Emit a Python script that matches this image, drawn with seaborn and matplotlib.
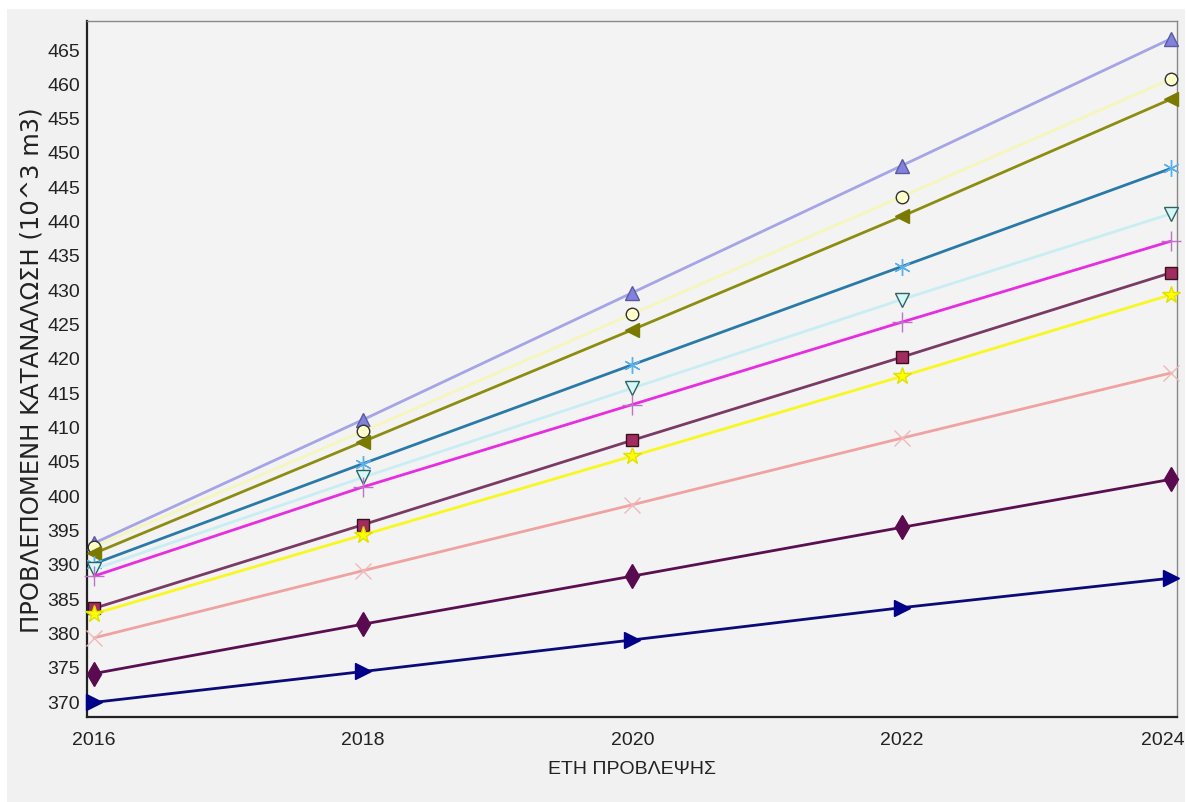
import matplotlib
matplotlib.use("Agg")
import matplotlib.pyplot as plt
import matplotlib.transforms as mtransforms
from matplotlib.patches import Rectangle
import seaborn as sns
import pandas as pd

# Forecast years and projected consumption per scenario (10^3 m3)
years = [2016, 2018, 2020, 2022, 2024]

s_triangle = [393.0, 411.0, 429.5, 448.0, 466.5]
s_circle = [392.5, 409.3, 426.4, 443.5, 460.6]
s_left = [391.5, 407.8, 424.1, 440.6, 457.7]
s_asterisk = [390.0, 404.6, 419.0, 433.3, 447.6]
s_down = [389.2, 402.6, 415.6, 428.5, 441.0]
s_plus = [388.2, 401.2, 413.2, 425.2, 437.0]
s_square = [383.5, 395.7, 408.0, 420.1, 432.4]
s_star = [382.7, 394.2, 405.7, 417.3, 429.2]
s_x = [379.2, 389.0, 398.6, 408.3, 417.8]
s_diamond = [374.0, 381.2, 388.2, 395.3, 402.3]
s_right = [369.8, 374.3, 378.9, 383.6, 387.9]

y_ticks = list(range(370, 466, 5))
x_ticks = [2016, 2018, 2020, 2022, 2024]

x_title = "ΕΤΗ ΠΡΟΒΛΕΨΗΣ"
y_title = "ΠΡΟΒΛΕΠΟΜΕΝΗ ΚΑΤΑΝΑΛΩΣΗ (10^3 m3)"

# name, values, line colour, marker, face, edge, size
styles = [
    ("s1", s_triangle, "#a4a4e6", "^", "#8282dc", "#5a5aa0", 10),
    ("s2", s_circle, "#f6f6bc", "o", "#ffffcc", "#303030", 9),
    ("s3", s_left, "#8c8c10", "<", "#7a7a00", "#7a7a00", 10),
    ("s4", s_asterisk, "#2a7aa8", (6, 2, 0), "#5ab0e8", "#5ab0e8", 12),
    ("s5", s_down, "#c8eef4", "v", "#d8f8f8", "#2f6464", 10),
    ("s6", s_plus, "#e62ee0", "+", "#c070c8", "#c070c8", 14),
    ("s7", s_square, "#7a3a64", "s", "#a02c60", "#3a1020", 9),
    ("s8", s_star, "#f8f820", "*", "#ffff00", "#e0e000", 13),
    ("s9", s_x, "#f0a2a2", "x", "#f2b8b8", "#f2b8b8", 12),
    ("s10", s_diamond, "#5a1050", "d", "#5a0a4e", "#5a0a4e", 12),
    ("s11", s_right, "#0a0a78", ">", "#000088", "#000088", 11),
]

sns.set_theme(style="white")
plt.rcParams["font.family"] = ["Liberation Sans", "DejaVu Sans"]

fig = plt.figure(figsize=(11.87, 8.03), dpi=100)
fig.patch.set_facecolor("white")
# grey panel behind the plot, leaving a thin white frame
fig.patches.append(Rectangle((7 / 1187, 0), 1178 / 1187, 793 / 803,
                             transform=fig.transFigure, facecolor="#f1f1f1",
                             edgecolor="none", zorder=-10))

ax = fig.add_axes([87 / 1187, 1 - 718 / 803, 1090 / 1187, 696 / 803])
ax.set_zorder(1)
ax.set_facecolor("#f3f3f3")

for name, vals, lc, mk, fc, ec, ms in styles:
    df = pd.DataFrame({"year": years, "value": vals})
    sns.lineplot(data=df, x="year", y="value", ax=ax, color=lc, linewidth=2.0,
                 marker=mk, markersize=ms, markerfacecolor=fc,
                 markeredgecolor=ec, markeredgewidth=1.0, clip_on=False,
                 zorder=3)

ax.set_xlim(2015.948, 2024.045)
ax.set_ylim(367.67, 469.08)
ax.set_xticks(x_ticks)
ax.set_yticks(y_ticks)
ax.set_xticklabels([str(t) for t in x_ticks], fontsize=14)
ax.set_yticklabels([str(t) for t in y_ticks], fontsize=14)
ax.tick_params(axis="y", which="major", direction="out", length=3, width=0.8,
               color="#555555", pad=2, labelcolor="#222222")
ax.tick_params(axis="x", which="major", direction="in", length=3, width=0.8,
               color="#888888", pad=10, labelcolor="#222222")

# keep the last year label inside the figure edge
last = ax.get_xticklabels()[-1]
last.set_transform(last.get_transform() +
                   mtransforms.ScaledTranslation(-0.08, 0, fig.dpi_scale_trans))

ax.set_xlabel(x_title, fontsize=14, color="#222222", labelpad=9)
ax.set_ylabel(y_title, fontsize=17.5, color="#222222",
              family=["DejaVu Sans"], labelpad=3)

for side in ("left", "bottom"):
    ax.spines[side].set_color("#222222")
    ax.spines[side].set_linewidth(1.6)
for side in ("top", "right"):
    ax.spines[side].set_color("#888888")
    ax.spines[side].set_linewidth(1.0)

fig.savefig("out.png", dpi=100, facecolor=fig.get_facecolor())
